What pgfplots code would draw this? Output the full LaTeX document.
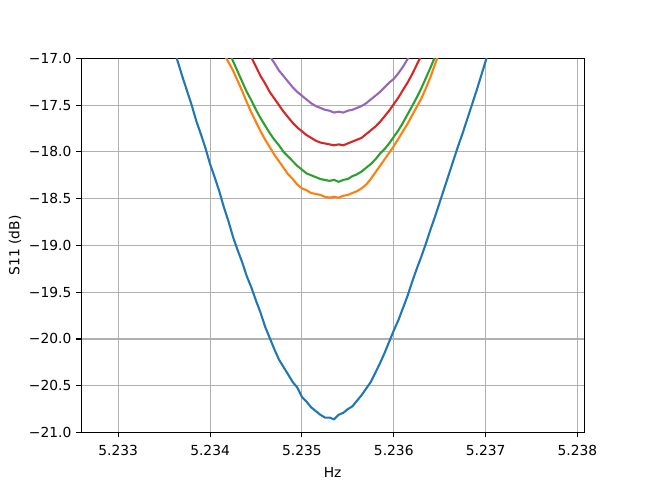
\documentclass[border=0pt]{standalone}
\usepackage{pgfplots}
\pgfplotsset{compat=1.18}
\usepackage{fontspec}
\setmainfont{DejaVu Sans}
\definecolor{C0}{HTML}{1F77B4}
\definecolor{C1}{HTML}{FF7F0E}
\definecolor{C2}{HTML}{2CA02C}
\definecolor{C3}{HTML}{D62728}
\definecolor{C4}{HTML}{9467BD}
\definecolor{gridgray}{HTML}{B0B0B0}
\begin{document}
\begin{tikzpicture}
\path[use as bounding box] (-58.61pt,-38.66pt) rectangle (410.43pt,312.58pt);
\begin{axis}[
  at={(0,0)}, anchor=south west,
  scale only axis, width=363.52pt, height=270.44pt,
  xmin=2.596, xmax=8.072, ymin=-21, ymax=-17,
  font=\fontsize{10}{12}\selectfont,
  xtick={3,4,5,6,7,8},
  xticklabels={5.233,5.234,5.235,5.236,5.237,5.238},
  ytick={-21,-20.5,-20,-19.5,-19,-18.5,-18,-17.5,-17},
  yticklabels={−21.0,−20.5,−20.0,−19.5,−19.0,−18.5,−18.0,−17.5,−17.0},
  xtick pos=bottom, ytick pos=left,
  tick align=outside, major tick length=3.5bp,
  tick style={line width=0.8bp, black},
  axis line style={line width=0.8bp, black},
  grid=major, major grid style={line width=0.8bp, gridgray},
  xticklabel style={yshift=-2.5pt},
  xlabel={Hz},
  xlabel style={at={(axis description cs:0.5,0)}, anchor=center, yshift=-28.76pt},
  ylabel={S11 (dB)},
  ylabel style={at={(axis description cs:0,0.5)}, anchor=center, yshift=47.8pt},
  every axis plot/.append style={line width=1.5bp, line join=round},
]
% blue
\addplot[C0] coordinates {
(3.55,-16.72)(3.60,-16.88)(3.65,-17.04)(3.70,-17.20)(3.75,-17.35)(3.80,-17.50)(3.85,-17.67)(3.90,-17.81)(3.95,-17.96)(4.00,-18.13)(4.05,-18.27)(4.10,-18.42)(4.15,-18.59)(4.20,-18.74)(4.25,-18.91)(4.30,-19.05)(4.35,-19.18)(4.40,-19.33)(4.45,-19.45)(4.50,-19.59)(4.55,-19.72)(4.60,-19.87)(4.65,-19.99)(4.70,-20.11)(4.75,-20.22)(4.80,-20.30)(4.85,-20.38)(4.90,-20.46)(4.95,-20.52)(5.00,-20.62)(5.05,-20.67)(5.10,-20.73)(5.15,-20.77)(5.20,-20.81)(5.25,-20.84)(5.30,-20.84)(5.35,-20.86)(5.38,-20.83)(5.40,-20.81)(5.45,-20.79)(5.50,-20.75)(5.55,-20.72)(5.60,-20.66)(5.65,-20.60)(5.70,-20.53)(5.75,-20.46)(5.80,-20.36)(5.85,-20.26)(5.90,-20.15)(5.95,-20.03)(6.00,-19.91)(6.05,-19.80)(6.10,-19.67)(6.15,-19.54)(6.20,-19.39)(6.25,-19.25)(6.30,-19.12)(6.35,-18.98)(6.40,-18.83)(6.45,-18.69)(6.50,-18.54)(6.55,-18.39)(6.60,-18.24)(6.65,-18.09)(6.70,-17.94)(6.75,-17.80)(6.80,-17.65)(6.85,-17.50)(6.90,-17.35)(6.95,-17.19)(7.00,-17.03)(7.05,-16.88)
};
% orange
\addplot[C1] coordinates {
(4.10,-16.85)(4.15,-16.95)(4.20,-17.04)(4.25,-17.13)(4.30,-17.24)(4.35,-17.35)(4.40,-17.47)(4.45,-17.58)(4.50,-17.68)(4.55,-17.78)(4.60,-17.87)(4.65,-17.95)(4.70,-18.03)(4.75,-18.10)(4.80,-18.17)(4.85,-18.24)(4.90,-18.29)(4.95,-18.35)(5.00,-18.39)(5.05,-18.41)(5.10,-18.44)(5.15,-18.45)(5.20,-18.46)(5.25,-18.48)(5.30,-18.49)(5.35,-18.48)(5.40,-18.49)(5.45,-18.47)(5.50,-18.46)(5.55,-18.44)(5.60,-18.42)(5.65,-18.39)(5.70,-18.35)(5.75,-18.29)(5.80,-18.22)(5.85,-18.15)(5.90,-18.08)(5.95,-18.01)(6.00,-17.94)(6.05,-17.86)(6.10,-17.78)(6.15,-17.70)(6.20,-17.61)(6.25,-17.52)(6.30,-17.43)(6.35,-17.32)(6.40,-17.20)(6.45,-17.06)(6.50,-16.93)
};
% green
\addplot[C2] coordinates {
(4.20,-16.91)(4.25,-17.03)(4.30,-17.14)(4.35,-17.25)(4.40,-17.36)(4.45,-17.45)(4.50,-17.55)(4.55,-17.64)(4.60,-17.72)(4.65,-17.80)(4.70,-17.87)(4.75,-17.93)(4.80,-18.00)(4.85,-18.05)(4.90,-18.10)(4.95,-18.15)(5.00,-18.19)(5.05,-18.23)(5.10,-18.25)(5.15,-18.27)(5.20,-18.29)(5.25,-18.30)(5.30,-18.31)(5.35,-18.30)(5.40,-18.32)(5.45,-18.30)(5.50,-18.29)(5.55,-18.26)(5.60,-18.24)(5.65,-18.21)(5.70,-18.17)(5.75,-18.13)(5.80,-18.08)(5.85,-18.02)(5.90,-17.97)(5.95,-17.91)(6.00,-17.84)(6.05,-17.77)(6.10,-17.69)(6.15,-17.60)(6.20,-17.51)(6.25,-17.42)(6.30,-17.32)(6.35,-17.21)(6.40,-17.10)(6.45,-16.98)
};
% red
\addplot[C3] coordinates {
(4.40,-16.89)(4.45,-16.99)(4.50,-17.09)(4.55,-17.19)(4.60,-17.27)(4.65,-17.36)(4.70,-17.43)(4.75,-17.50)(4.80,-17.57)(4.85,-17.63)(4.90,-17.69)(4.95,-17.74)(5.00,-17.78)(5.05,-17.82)(5.10,-17.85)(5.15,-17.88)(5.20,-17.90)(5.25,-17.91)(5.30,-17.92)(5.35,-17.93)(5.40,-17.92)(5.45,-17.93)(5.50,-17.91)(5.55,-17.89)(5.60,-17.87)(5.65,-17.85)(5.70,-17.81)(5.75,-17.77)(5.80,-17.73)(5.85,-17.68)(5.90,-17.62)(5.95,-17.56)(6.00,-17.49)(6.05,-17.42)(6.10,-17.34)(6.15,-17.26)(6.20,-17.17)(6.25,-17.07)(6.30,-16.97)
};
% purple
\addplot[C4] coordinates {
(4.60,-16.89)(4.65,-16.98)(4.70,-17.05)(4.75,-17.13)(4.80,-17.19)(4.85,-17.25)(4.90,-17.31)(4.95,-17.36)(5.00,-17.40)(5.05,-17.44)(5.10,-17.48)(5.15,-17.51)(5.20,-17.53)(5.25,-17.55)(5.30,-17.56)(5.35,-17.58)(5.40,-17.57)(5.45,-17.58)(5.50,-17.56)(5.55,-17.55)(5.60,-17.53)(5.65,-17.51)(5.70,-17.48)(5.75,-17.44)(5.80,-17.40)(5.85,-17.36)(5.90,-17.31)(5.95,-17.26)(6.00,-17.22)(6.05,-17.16)(6.10,-17.09)(6.15,-17.01)(6.20,-16.93)
};
\node[anchor=east, inner sep=0pt, font=\fontsize{10}{12}\selectfont] at (rel axis cs:1,0) [yshift=-28.76pt] {1e9};
\end{axis}
\end{tikzpicture}
\end{document}
